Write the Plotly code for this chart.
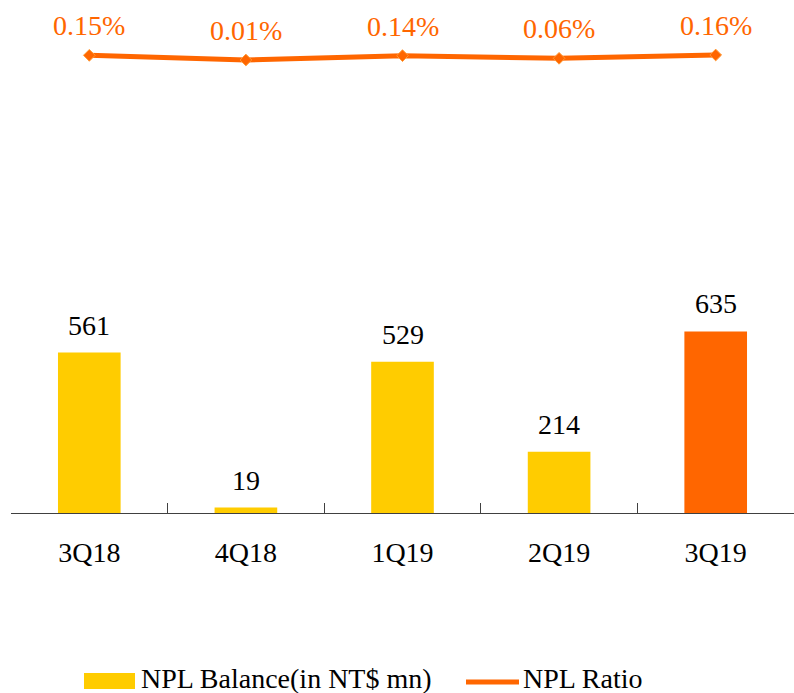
import plotly.graph_objects as go

quarters = ["3Q18", "4Q18", "1Q19", "2Q19", "3Q19"]
npl_balance = [561, 19, 529, 214, 635]          # NT$ mn
npl_ratio = [0.15, 0.01, 0.14, 0.06, 0.16]      # percent
bar_colors = ["#FFCC00", "#FFCC00", "#FFCC00", "#FFCC00", "#FF6600"]

ORANGE = "#FF6600"
YELLOW = "#FFCC00"
FONT = "Liberation Serif, Times New Roman, DejaVu Serif, serif"
FS = 28

fig = go.Figure()

fig.add_trace(go.Bar(
    x=quarters, y=npl_balance, name="NPL Balance(in NT$ mn)",
    marker=dict(color=bar_colors, line=dict(width=0)),
    showlegend=False, yaxis="y",
))

fig.add_trace(go.Scatter(
    x=quarters, y=npl_ratio, name="NPL Ratio", mode="lines+markers",
    line=dict(color=ORANGE, width=5),
    marker=dict(symbol="diamond", size=9, color=ORANGE,
                line=dict(color="#FF9933", width=1)),
    showlegend=False, yaxis="y2",
))

annotations = []
for q, v in zip(quarters, npl_balance):
    annotations.append(dict(
        x=q, y=v, xref="x", yref="y", text=str(v), showarrow=False,
        yanchor="bottom", yshift=10, font=dict(family=FONT, size=FS, color="black"),
    ))
for q, v in zip(quarters, npl_ratio):
    annotations.append(dict(
        x=q, y=v, xref="x", yref="y2", text=f"{v:.2f}%", showarrow=False,
        yanchor="bottom", yshift=12, font=dict(family=FONT, size=FS, color=ORANGE),
    ))

# Legend drawn below the axis
plot_left, plot_w, plot_h = 11, 783, 513


def px_x(X):
    return (X - plot_left) / plot_w


def px_y(Y):
    return (plot_h - Y) / plot_h


shapes = [
    dict(type="rect", xref="paper", yref="paper",
         x0=px_x(84), x1=px_x(135), y0=px_y(689), y1=px_y(673),
         fillcolor=YELLOW, line=dict(width=0)),
    dict(type="line", xref="paper", yref="paper",
         x0=px_x(466), x1=px_x(519), y0=px_y(682), y1=px_y(682),
         line=dict(color=ORANGE, width=5)),
]
annotations += [
    dict(x=px_x(139), y=px_y(678), xref="paper", yref="paper",
         text="NPL Balance(in NT$ mn)", showarrow=False, xanchor="left",
         yanchor="middle", font=dict(family=FONT, size=FS, color="black")),
    dict(x=px_x(521), y=px_y(678), xref="paper", yref="paper",
         text="NPL Ratio", showarrow=False, xanchor="left",
         yanchor="middle", font=dict(family=FONT, size=FS, color="black")),
]

fig.update_layout(
    width=794, height=693,
    margin=dict(l=plot_left, r=0, t=0, b=693 - plot_h),
    paper_bgcolor="white", plot_bgcolor="white",
    bargap=0.6,
    font=dict(family=FONT, size=FS),
    xaxis=dict(
        type="category", range=[-0.5, 4.5], showline=True, linecolor="#404040",
        linewidth=1, ticks="inside", tickson="boundaries", ticklen=10,
        tickcolor="#404040", showgrid=False, zeroline=False,
        tickfont=dict(family=FONT, size=FS, color="black"),
        ticklabelstandoff=14,
    ),
    yaxis=dict(range=[0, 1794], visible=False, showgrid=False),
    yaxis2=dict(range=[-13.58, 1.81], overlaying="y", visible=False, showgrid=False),
    annotations=annotations,
    shapes=shapes,
)

fig.write_html("out.html")
